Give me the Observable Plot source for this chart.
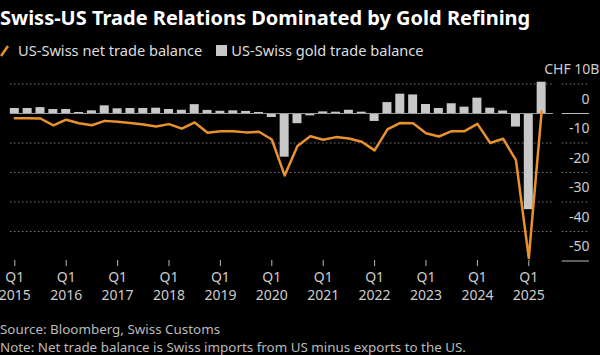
<!DOCTYPE html>
<html>
<head>
<meta charset="utf-8">
<script src="https://cdn.jsdelivr.net/npm/d3@7"></script>
<script src="https://cdn.jsdelivr.net/npm/@observablehq/plot@0.6"></script>
<style>
  html, body { margin: 0; padding: 0; background: #000; width: 600px; height: 355px; overflow: hidden; }
  body { position: relative; font-family: "Noto Sans", sans-serif; }
  #title { position: absolute; left: 0; top: 5px; color: #fff; font-weight: bold; font-size: 20px; line-height: 26px; white-space: nowrap; }
  #legend { position: absolute; left: 0; top: 41px; color: #ddd; font-size: 14.6px; line-height: 19px; white-space: nowrap; display: flex; align-items: center; }
  #chart { position: absolute; left: 0; top: 60px; }
  .foot { position: absolute; left: 0; color: #bbb; font-size: 13.4px; line-height: 14px; white-space: nowrap; }
  #source { top: 322px; }
  #note { top: 340px; }
</style>
</head>
<body>
<div id="title">Swiss-US Trade Relations Dominated by Gold Refining</div>
<div id="legend">
  <svg width="10" height="14" style="margin-right:8px"><line x1="1" y1="12" x2="8" y2="2" stroke="#e8912d" stroke-width="2.5"/></svg>
  <span>US-Swiss net trade balance</span>
  <span style="display:inline-block;width:11px;height:11px;background:#c8c8c8;margin:0 4px 0 14px"></span>
  <span>US-Swiss gold trade balance</span>
</div>
<div id="chart"></div>
<div id="source" class="foot">Source: Bloomberg, Swiss Customs</div>
<div id="note" class="foot">Note: Net trade balance is Swiss imports from US minus exports to the US.</div>
<script>
// ---- data (CHF billions, quarterly, 2015 Q1 to 2025 Q2) ----
const startYear = 2015;
const gold = [1.7,1.7,2.0,1.35,1.35,0.35,0.9,2.6,1.6,1.7,1.7,1.8,1.35,1.1,3.0,1.05,0.75,0.9,0.7,0.35,-1.35,-14.8,-3.45,-0.8,0.55,0.45,1.1,0.45,-2.7,3.7,6.55,6.3,3.05,1.7,3.3,2.15,5.2,1.8,0.85,-4.6,-32.6,10.6];
const net = [-1.6,-1.6,-1.7,-4.0,-2.1,-3.3,-4.0,-2.5,-2.8,-3.2,-3.7,-4.4,-3.6,-5.15,-3.05,-6.55,-6.0,-6.0,-6.4,-6.2,-8.8,-21.0,-11.0,-7.7,-8.9,-8.0,-8.5,-9.6,-12.5,-5.4,-3.2,-3.3,-6.7,-7.8,-6.0,-6.0,-3.5,-10.0,-8.55,-15.8,-49.0,0.8];
const yearTicks = [2015,2016,2017,2018,2019,2020,2021,2022,2023,2024,2025];
const quarterLabel = "Q1";
const yTicks = [0,-10,-20,-30,-40,-50];
const gridDotted = [10,-10,-20,-30,-40];
const gridSolidLabel = [0,-50];
const topTick = 10;
const unitPrefix = "CHF ";
const unitSuffix = "B";

const rows = gold.map((g, i) => ({
  t: startYear + i / 4,
  gold: g,
  net: net[i]
}));

// layout extents in x-data units
const plotStart = 2014.915, plotEnd = 2025.48, labelStart = 2025.65, labelEnd = 2026.18;
const halfBar = 0.0875;
const FONT = "'Noto Sans', sans-serif";

const chart = Plot.plot({
  width: 600, height: 255,
  marginTop: 0, marginLeft: 10, marginRight: 47, marginBottom: 55,
  style: {background: "transparent", color: "#ccc", fontFamily: FONT, fontSize: "14px", overflow: "visible"},
  x: {type: "linear", domain: [2015, 2025], range: [14.3, 528.3], axis: null},
  y: {domain: [-50, 10], range: [200.5, 23.5], axis: null},
  marks: [
    Plot.ruleY(gridDotted, {y: d => d, x1: plotStart, x2: plotEnd, stroke: "#777", strokeDasharray: "1.5,2.5", strokeWidth: 1}),
    Plot.ruleY(gridDotted, {y: d => d, x1: labelStart, x2: labelEnd, stroke: "#777", strokeDasharray: "1.5,2.5", strokeWidth: 1}),
    Plot.ruleY(gridSolidLabel, {y: d => d, x1: labelStart, x2: labelEnd, stroke: "#bbb", strokeWidth: 1}),
    Plot.rectY(rows, {x1: d => d.t - halfBar, x2: d => d.t + halfBar, y1: 0, y2: "gold", fill: "#c8c8c8"}),
    Plot.ruleY([0], {x1: plotStart, x2: plotEnd, stroke: "#999", strokeWidth: 1}),
    Plot.line(rows, {x: "t", y: "net", stroke: "#e8912d", strokeWidth: 2.5}),
    Plot.text(yTicks, {x: labelEnd, y: d => d, text: d => String(d), textAnchor: "end", dy: -14, fill: "#ccc", fontSize: 14}),
    Plot.text([topTick], {x: labelEnd, y: d => d, text: d => `${unitPrefix}${d}${unitSuffix}`, textAnchor: "end", dx: 10, dy: -14, fill: "#ccc", fontSize: 14}),
    Plot.axisX({ticks: yearTicks, tickSize: 6, tickFormat: () => "", stroke: "#bbb", label: null}),
    Plot.text(yearTicks, {x: d => d, frameAnchor: "bottom", text: () => quarterLabel, dy: 21, fill: "#ccc", fontSize: 14}),
    Plot.text(yearTicks, {x: d => d, frameAnchor: "bottom", text: d => String(d), dy: 39.5, fill: "#ccc", fontSize: 14})
  ]
});
document.getElementById("chart").append(chart);
</script>
</body>
</html>
